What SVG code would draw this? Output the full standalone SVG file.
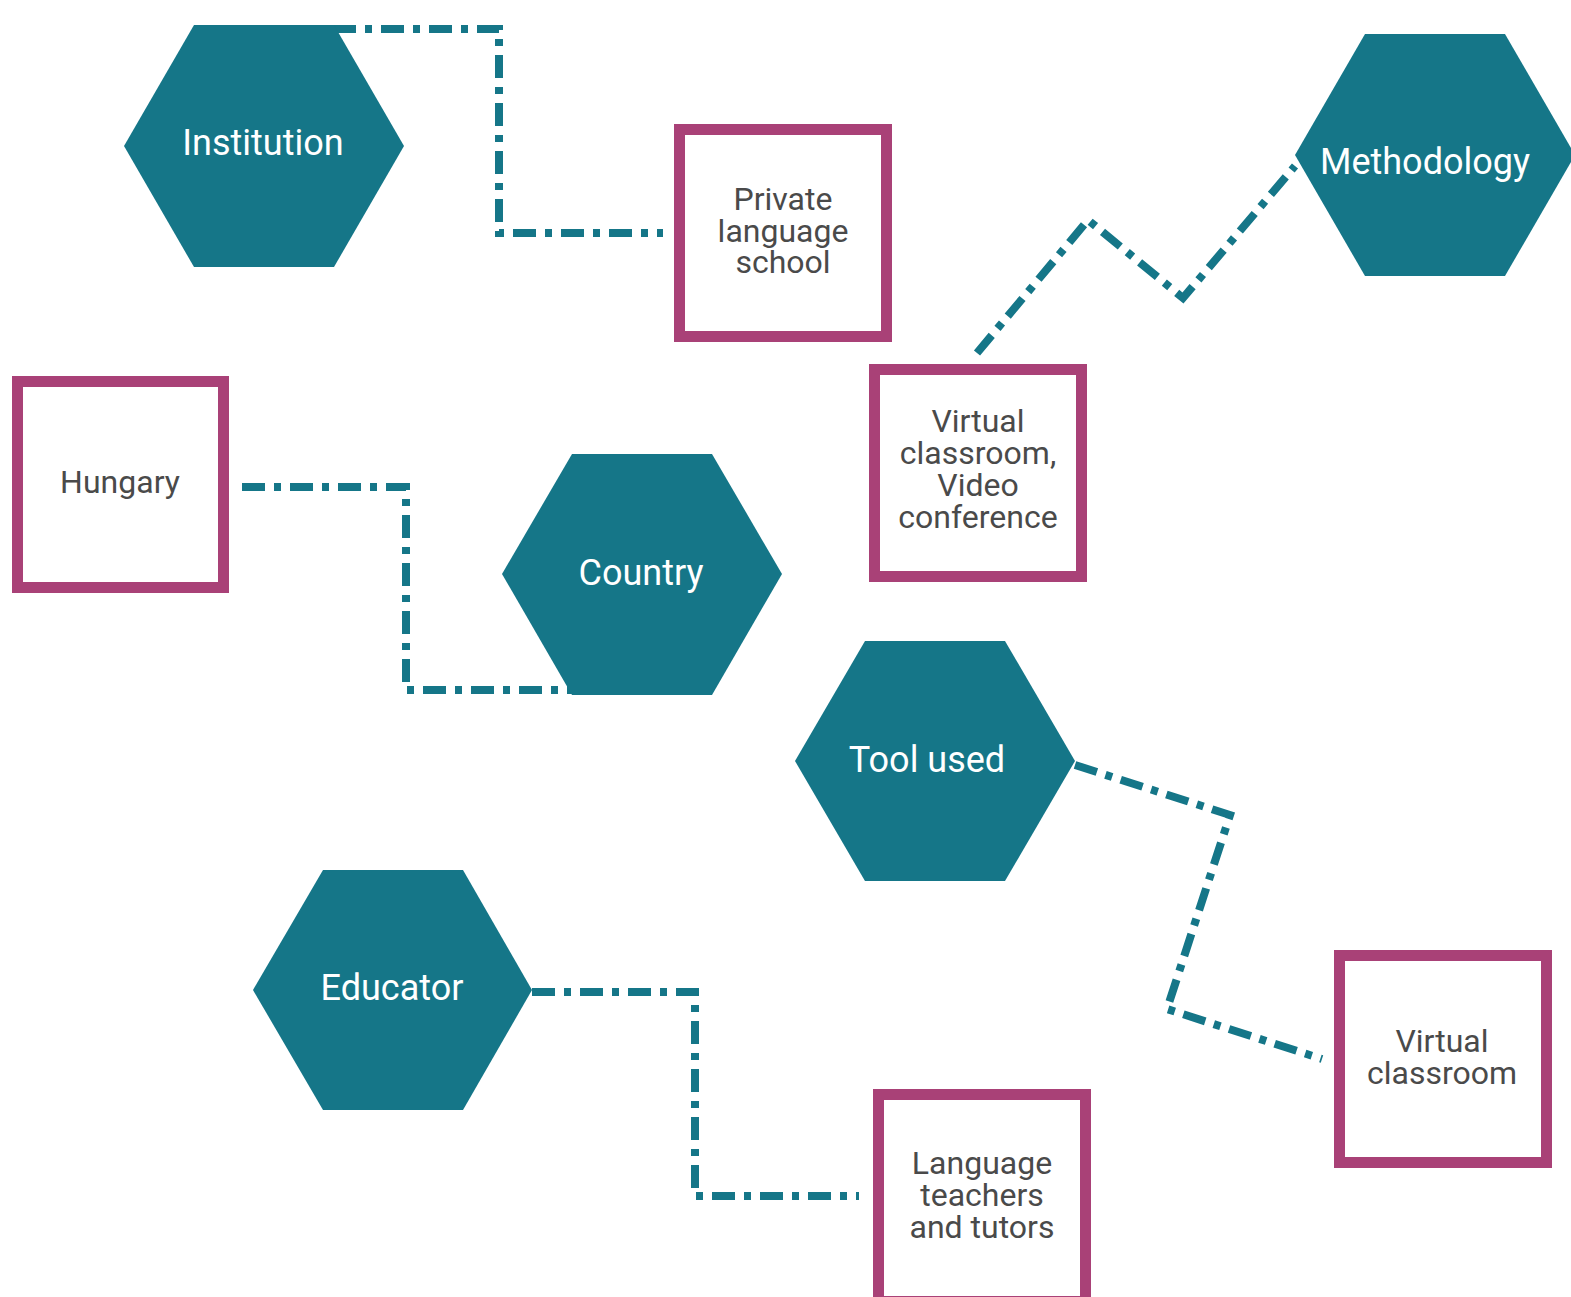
<svg xmlns="http://www.w3.org/2000/svg" width="1571" height="1297" viewBox="0 0 1571 1297">
<style>
.hex{fill:#157688}
.box{fill:#ffffff;stroke:#a94177;stroke-width:11}
.conn{fill:none;stroke:#157688;stroke-width:8;stroke-dasharray:23 9 7 9;stroke-linejoin:miter}
.ht{font-family:Roboto,"Liberation Sans",sans-serif;font-size:36px;fill:#ffffff;text-anchor:middle}
.bt{font-family:Roboto,"Liberation Sans",sans-serif;font-size:32px;fill:#4a4a4a;text-anchor:middle}
</style>
<rect width="1571" height="1297" fill="#ffffff"/>
<g id="connectors">
<polyline class="conn" points="333,29 499,29 499,233 663,233"/>
<polyline class="conn" points="977,353 1088,220 1183,298 1295,166"/>
<polyline class="conn" points="242,487 406,487 406,690 572,690"/>
<polyline class="conn" points="1075,765 1230,815 1167,1009 1322,1059"/>
<polyline class="conn" points="532,992 695,992 695,1196 859,1196"/>
</g>
<g id="institution">
<polygon class="hex" points="124,146 194,25 334,25 404,146 334,267 194,267"/>
<text class="ht" x="263" y="155">Institution</text>
</g>
<g id="private-language-school">
<rect class="box" x="679.5" y="129.5" width="207" height="207"/>
<text class="bt" x="783" y="210">Private</text>
<text class="bt" x="783" y="242">language</text>
<text class="bt" x="783" y="273">school</text>
</g>
<g id="methodology">
<polygon class="hex" points="1295,155 1365,34 1505,34 1575,155 1505,276 1365,276"/>
<text class="ht" x="1425" y="174">Methodology</text>
</g>
<g id="virtual-classroom-video">
<rect class="box" x="874.5" y="369.5" width="207" height="207"/>
<text class="bt" x="978" y="432">Virtual</text>
<text class="bt" x="978" y="464">classroom,</text>
<text class="bt" x="978" y="496">Video</text>
<text class="bt" x="978" y="528">conference</text>
</g>
<g id="hungary">
<rect class="box" x="17.5" y="381.5" width="206" height="206"/>
<text class="bt" x="120" y="493">Hungary</text>
</g>
<g id="country">
<polygon class="hex" points="502,574 572,454 712,454 782,574 712,695 572,695"/>
<text class="ht" x="641" y="585">Country</text>
</g>
<g id="tool-used">
<polygon class="hex" points="795,761 865,641 1005,641 1075,761 1005,881 865,881"/>
<text class="ht" x="927" y="772">Tool used</text>
</g>
<g id="virtual-classroom">
<rect class="box" x="1339.5" y="955.5" width="207" height="207"/>
<text class="bt" x="1442" y="1052">Virtual</text>
<text class="bt" x="1442" y="1084">classroom</text>
</g>
<g id="educator">
<polygon class="hex" points="253,990 323,870 463,870 532,990 463,1110 323,1110"/>
<text class="ht" x="392" y="1000">Educator</text>
</g>
<g id="language-teachers">
<rect class="box" x="878.5" y="1094.5" width="207" height="207"/>
<text class="bt" x="982" y="1174">Language</text>
<text class="bt" x="982" y="1206">teachers</text>
<text class="bt" x="982" y="1238">and tutors</text>
</g>
</svg>
